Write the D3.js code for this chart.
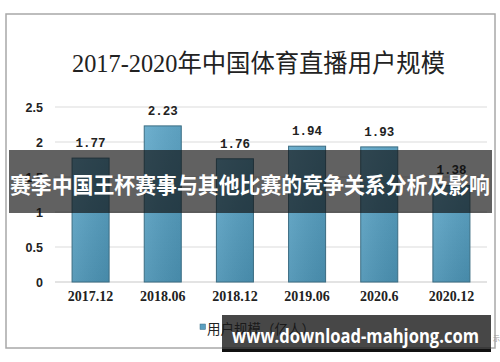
<!DOCTYPE html>
<html><head><meta charset="utf-8">
<script src="https://cdn.jsdelivr.net/npm/d3@7"></script>
<style>html,body{margin:0;padding:0;background:#fff;}svg{display:block;}</style>
</head><body>
<svg id="c" width="500" height="362"></svg>
<script>
const categories = ["2017.12","2018.06","2018.12","2019.06","2020.6","2020.12"];
const values = [1.77, 2.23, 1.76, 1.94, 1.93, 1.38];
const valueLabels = ["1.77","2.23","1.76","1.94","1.93","1.38"];
const yTicks = [0, 0.5, 1, 1.5, 2, 2.5];
const yTickLabels = ["0","0.5","1","1.5","2","2.5"];
const title = "2017-2020年中国体育直播用户规模";
const seriesName = "用户规模（亿人）";
const bannerText = "赛季中国王杯赛事与其他比赛的竞争关系分析及影响";
const watermark = "www.download-mahjong.com";

const svg = d3.select("#c");
const defs = svg.append("defs");
const g = defs.append("linearGradient").attr("id","barg").attr("x1",0).attr("x2",0).attr("y1",0).attr("y2",1);
g.append("stop").attr("offset","0%").attr("stop-color","#62a9ca");
g.append("stop").attr("offset","100%").attr("stop-color","#4b92b3");
const gh = defs.append("linearGradient").attr("id","barh").attr("x1",0).attr("x2",1).attr("y1",0).attr("y2",0);
gh.append("stop").attr("offset","0%").attr("stop-color","#ffffff").attr("stop-opacity",0.08);
gh.append("stop").attr("offset","100%").attr("stop-color","#000000").attr("stop-opacity",0.06);

// frame
svg.append("rect").attr("x",6).attr("y",14).attr("width",489).attr("height",334)
  .attr("fill","#fff").attr("stroke","#a8a8a8").attr("stroke-width",1.5);

svg.append("text").attr("x",258.5).attr("y",72).attr("text-anchor","middle")
  .attr("font-family","'Liberation Serif','Noto Sans CJK SC',serif").attr("font-size",24.5)
  .attr("fill","#222").attr("textLength",373).attr("lengthAdjust","spacingAndGlyphs").text(title);

const x = d3.scaleBand().domain(categories).range([54.5,487.5]).paddingInner(0.487).paddingOuter(0.2435);
const y = d3.scaleLinear().domain([0,2.5]).range([282,107]);

// gridlines
svg.append("g").selectAll("line").data(yTicks).join("line")
  .attr("x1",55).attr("x2",487).attr("y1",d=>y(d)).attr("y2",d=>y(d))
  .attr("stroke",d=>d===0?"#c8c8c8":"#dcdcdc").attr("stroke-width",1.2);

// y axis labels
const yAxis = d3.axisLeft(y).tickValues(yTicks).tickSize(0).tickPadding(0)
  .tickFormat((d,i)=>yTickLabels[i]);
const ya = svg.append("g").attr("transform","translate(43,0)").call(yAxis);
ya.select(".domain").remove();
ya.selectAll("text").attr("font-family","'Liberation Sans',Arial,sans-serif").attr("font-weight","bold")
  .attr("font-size",12.5).attr("fill","#222");

// bars
const bars = svg.append("g");
bars.selectAll("rect.b").data(values).join("rect").attr("class","b")
  .attr("x",(d,i)=>x(categories[i])).attr("width",x.bandwidth())
  .attr("y",d=>y(d)).attr("height",d=>y(0)-y(d))
  .attr("fill","url(#barg)").attr("stroke","#3b6c82").attr("stroke-width",1);
bars.selectAll("rect.h").data(values).join("rect").attr("class","h")
  .attr("x",(d,i)=>x(categories[i])+0.5).attr("width",x.bandwidth()-1)
  .attr("y",d=>y(d)+0.5).attr("height",d=>y(0)-y(d)-1)
  .attr("fill","url(#barh)");

// value labels
svg.append("g").selectAll("text").data(values).join("text")
  .attr("x",(d,i)=>x(categories[i])+x.bandwidth()/2).attr("y",d=>y(d)-11)
  .attr("text-anchor","middle").attr("font-family","'Liberation Mono',monospace")
  .attr("font-weight","bold").attr("font-size",12.5).attr("fill","#222")
  .text((d,i)=>valueLabels[i]);

// x axis labels
const xAxis = d3.axisBottom(x).tickSize(0).tickPadding(0);
const xa = svg.append("g").attr("transform","translate(0,291)").call(xAxis);
xa.select(".domain").remove();
xa.selectAll("text").attr("font-family","'Liberation Serif',serif").attr("font-weight","bold")
  .attr("font-size",14).attr("fill","#222").attr("dy","0.71em");

// legend
svg.append("rect").attr("x",200).attr("y",324).attr("width",5.5).attr("height",5.5)
  .attr("fill","#5a9fc0").attr("stroke","#3b6c82").attr("stroke-width",0.5);
svg.append("text").attr("x",207).attr("y",334).attr("font-family","'Noto Sans CJK SC',sans-serif")
  .attr("font-size",13.5).attr("fill","#222").text(seriesName);

// banner overlay
svg.append("rect").attr("x",9).attr("y",150).attr("width",483).attr("height",63)
  .attr("fill","rgb(15,15,15)").attr("fill-opacity",0.66);
svg.append("text").attr("x",10).attr("y",192.5)
  .attr("font-family","'Noto Sans CJK SC',sans-serif").attr("font-weight","bold")
  .attr("font-size",21.8).attr("fill","#fff")
  .attr("textLength",480).attr("lengthAdjust","spacingAndGlyphs").text(bannerText);

// watermark
svg.append("rect").attr("x",222).attr("y",315).attr("width",269).attr("height",35)
  .attr("fill","rgb(25,25,25)").attr("fill-opacity",0.8);
svg.append("rect").attr("x",222).attr("y",349).attr("width",269).attr("height",3).attr("fill","#111");
svg.append("text").attr("x",232).attr("y",343).attr("font-family","'Open Sans',sans-serif")
  .attr("font-weight","bold").attr("font-size",19).attr("fill","#fff")
  .attr("textLength",247).attr("lengthAdjust","spacingAndGlyphs").text(watermark);
svg.append("text").attr("x",493).attr("y",341).attr("font-family","'Noto Sans CJK SC',sans-serif")
  .attr("font-size",7).attr("fill","#999").text("示");
</script>
</body></html>
